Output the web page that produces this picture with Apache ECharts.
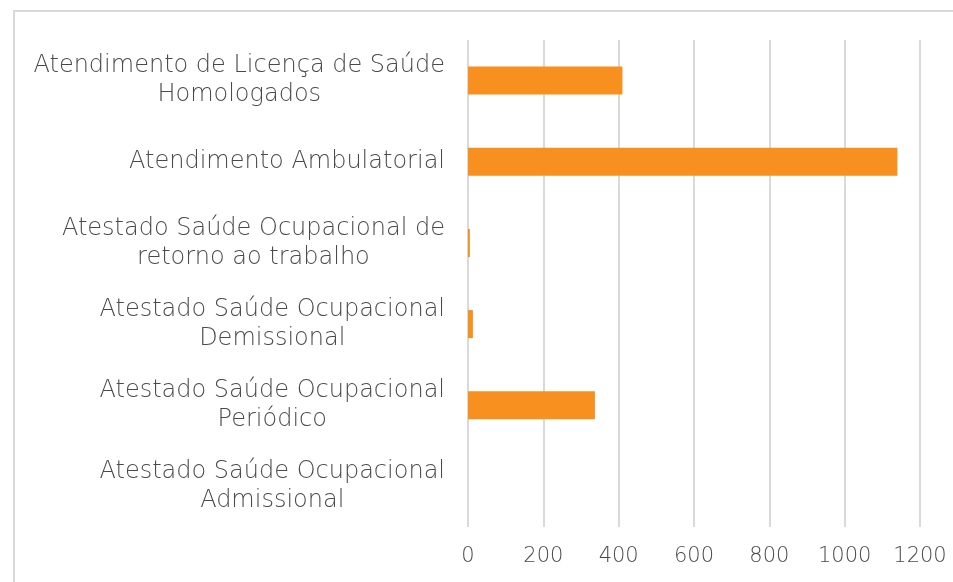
<!DOCTYPE html>
<html>
<head>
<meta charset="utf-8">
<script src="https://cdn.jsdelivr.net/npm/echarts@6/dist/echarts.min.js"></script>
<style>
  html, body { margin: 0; padding: 0; background: #fff; }
  #chart { width: 953px; height: 582px; }
</style>
</head>
<body>
<div id="chart"></div>
<script>
// Service categories, listed top to bottom
const categories = [
  'Atendimento de Licença de Saúde\nHomologados',
  'Atendimento Ambulatorial',
  'Atestado Saúde Ocupacional de\nretorno ao trabalho',
  'Atestado Saúde Ocupacional\nDemissional',
  'Atestado Saúde Ocupacional\nPeriódico',
  'Atestado Saúde Ocupacional\nAdmissional'
];
// Number of attendances per category
const values = [410, 1140, 5, 13, 337, 0];
// Value axis ticks
const axisMin = 0;
const axisMax = 1200;
const axisStep = 200;

const chart = echarts.init(document.getElementById('chart'));
const textColor = '#4a4a4a';
const fontFamily = '"DejaVu Sans", sans-serif';

chart.setOption({
  animation: false,
  graphic: [{
    type: 'rect',
    shape: { x: 14, y: 11, width: 1200, height: 1000 },
    style: { fill: 'none', stroke: '#d9d9d9', lineWidth: 2 },
    silent: true
  }],
  grid: { left: 468, right: 33, top: 40, bottom: 55 },
  xAxis: {
    type: 'value',
    min: axisMin,
    max: axisMax,
    interval: axisStep,
    axisLine: { show: false },
    axisTick: { show: false },
    splitLine: { lineStyle: { color: '#d9d9d9', width: 2 } },
    axisLabel: {
      color: textColor,
      fontFamily: fontFamily,
      fontWeight: 200,
      fontSize: 21,
      margin: 19,
      formatter: v => String(v)
    }
  },
  yAxis: {
    type: 'category',
    inverse: true,
    data: categories,
    axisLine: { show: false },
    axisTick: { show: false },
    axisLabel: {
      align: 'right',
      margin: 23,
      // each line centred inside a right-aligned block
      formatter: v => v.split('\n').map(s => '{c|' + s + '}').join('\n'),
      rich: {
        c: {
          align: 'center',
          color: textColor,
          fontFamily: fontFamily,
          fontWeight: 200,
          fontSize: 24,
          lineHeight: 29
        }
      }
    }
  },
  series: [{
    type: 'bar',
    data: values,
    barWidth: 28,
    itemStyle: { color: '#F7901E' }
  }]
});
</script>
</body>
</html>
